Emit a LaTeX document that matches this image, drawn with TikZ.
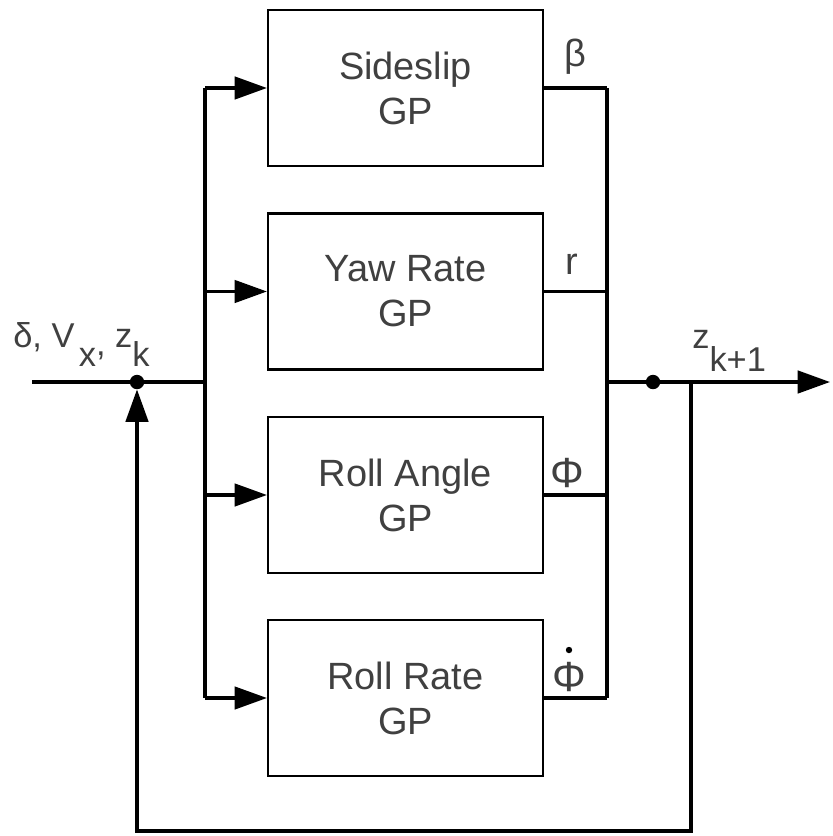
\documentclass[tikz,border=0pt]{standalone}
\usepackage{fontspec}
\setmainfont{Liberation Sans}
\usetikzlibrary{arrows.meta,positioning}
\definecolor{txtgray}{HTML}{404040}

\begin{document}
\begin{tikzpicture}[x=0.025cm, y=-0.025cm,
    gpbox/.style={draw, line width=1.5pt, minimum width=6.875cm, minimum height=3.9cm, align=center, inner sep=0pt, text=txtgray, font=\fontsize{27}{32}\selectfont},
    wire/.style={line width=2.2pt},
    arr/.style={-{Triangle[length=23pt,width=16pt]}, line width=2.2pt},
    jdot/.style={circle, fill=black, inner sep=0pt, minimum size=0.36cm},
    lbl/.style={inner sep=0pt, text=txtgray, font=\fontsize{27}{32}\selectfont},
    sublbl/.style={inner sep=0pt, text=txtgray, font=\fontsize{24.5}{28}\selectfont}
]
\useasboundingbox (0,0) rectangle (833,836);

% the four GP blocks
\node[gpbox] (sideslip) at (405.5,88)  {Sideslip\\GP};
\node[gpbox] (yaw)      at (405.5,291.5) {Yaw Rate\\GP};
\node[gpbox] (rollang)  at (405.5,495) {Roll Angle\\GP};
\node[gpbox] (rollrate) at (405.5,698) {Roll Rate\\GP};

% input side
\coordinate (in) at (32,382);
\node[jdot] (jin) at (137,382) {};
\coordinate (bus) at (205,382);
\draw[wire] (in) -- (jin) -- (bus);
\draw[wire] (bus |- sideslip.west) -- (bus |- rollrate.west);
\foreach \b in {sideslip,yaw,rollang,rollrate}
    \draw[arr] (bus |- \b.west) -- (\b.west);
\node[sublbl, anchor=base west] (inlbl) at (13,347)
    {δ, V\hspace{3pt}\raisebox{-14pt}{x}\raisebox{-6pt}{,} z\raisebox{-14pt}{k}};

% output side
\coordinate (obus) at (607,382);
\foreach \b in {sideslip,yaw,rollang,rollrate}
    \draw[wire] (\b.east) -- (obus |- \b.east);
\draw[wire] (obus |- sideslip.east) -- (obus |- rollrate.east);
\node[jdot] (jout) at (653,382) {};
\coordinate (out) at (830,382);
\draw[arr] (obus) -- (jout) -- (out);
\node[sublbl, anchor=base west] (outlbl) at (692,348) {z\raisebox{-17pt}{k+1}};

% output labels
\node[lbl, anchor=base] (beta) at (575,66)  {β};
\node[lbl, anchor=base] (rlbl) at (572,274) {r};
\node[lbl, anchor=base, font=\fontsize{30}{32}\selectfont] (phi)  at (567,487) {Φ};
\node[lbl, anchor=base, font=\fontsize{30}{32}\selectfont] (phid) at (569,691) {Φ};
\fill[black] (569,650) circle (0.08cm);

% feedback loop
\coordinate (fb) at (691,382);
\coordinate (fbb) at (691,831);
\draw[arr] (fb) -- (fbb) -| (jin.south);
\end{tikzpicture}
\end{document}
